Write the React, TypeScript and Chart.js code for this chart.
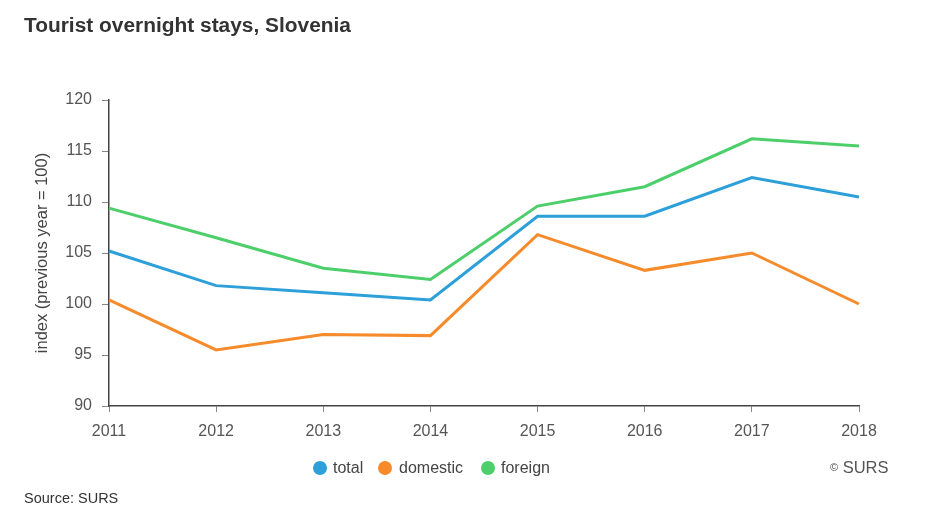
import React, { useEffect, useRef } from "react";
import { Chart, registerables } from "chart.js";

Chart.register(...registerables);

const years = ["2011", "2012", "2013", "2014", "2015", "2016", "2017", "2018"];
const totalValues = [105.2, 101.8, 101.1, 100.4, 108.6, 108.6, 112.4, 110.5];
const domesticValues = [100.4, 95.5, 97.0, 96.9, 106.8, 103.3, 105.0, 100.0];
const foreignValues = [109.4, 106.5, 103.5, 102.4, 109.6, 111.5, 116.2, 115.5];
const seriesNames = ["total", "domestic", "foreign"];
const seriesColors = ["#2d9fd9", "#f68b2c", "#4ccf6b"];

const FONT = "'Liberation Sans', Arial, sans-serif";

export default function App() {
  const ref = useRef<HTMLCanvasElement | null>(null);

  useEffect(() => {
    if (!ref.current) return;
    const values = [totalValues, domesticValues, foreignValues];
    const chart = new Chart(ref.current, {
      type: "line",
      data: {
        labels: years,
        datasets: seriesNames.map((name, i) => ({
          label: name,
          data: values[i],
          borderColor: seriesColors[i],
          backgroundColor: seriesColors[i],
          borderWidth: 3,
          pointRadius: 0,
          pointHoverRadius: 0,
          tension: 0,
          fill: false,
        })),
      },
      options: {
        animation: false,
        responsive: false,
        maintainAspectRatio: false,
        layout: { padding: { left: 0, top: 100, right: 66, bottom: 73 } },
        plugins: { legend: { display: false }, tooltip: { enabled: false }, title: { display: false } },
        scales: {
          x: {
            type: "category",
            offset: false,
            grid: { display: true, drawOnChartArea: false, drawTicks: true, tickLength: 6, color: "#888", lineWidth: 1 },
            border: { display: true, color: "#444", width: 1.5 },
            ticks: { color: "#555", font: { family: FONT, size: 16 }, padding: 10, maxRotation: 0, autoSkip: false },
            afterFit: (s: any) => { s.height = 40; },
          },
          y: {
            min: 90,
            max: 120,
            grid: { display: true, drawOnChartArea: false, drawTicks: true, tickLength: 7, color: "#888", lineWidth: 1 },
            border: { display: true, color: "#444", width: 1.5 },
            ticks: { stepSize: 5, color: "#555", font: { family: FONT, size: 16 }, padding: 10 },
            title: {
              display: true,
              text: "index (previous year = 100)",
              color: "#444",
              font: { family: FONT, size: 16.5 },
              padding: { top: 33, bottom: 0 },
            },
            afterFit: (s: any) => { s.width = 109; },
          },
        },
      },
    });
    return () => chart.destroy();
  }, []);

  const legendItems = [
    { name: seriesNames[0], color: seriesColors[0], cx: 320, tx: 333 },
    { name: seriesNames[1], color: seriesColors[1], cx: 385, tx: 399 },
    { name: seriesNames[2], color: seriesColors[2], cx: 488, tx: 501 },
  ];

  return (
    <div style={{ position: "absolute", left: 0, top: 0, width: 925, height: 519, background: "#fff", fontFamily: FONT }}>
      <canvas ref={ref} width={925} height={519} style={{ position: "absolute", left: 0, top: 0, width: 925, height: 519 }} />
      <div style={{ position: "absolute", left: 24, top: 12, fontSize: 20.9, lineHeight: "26px", fontWeight: "bold", color: "#333", whiteSpace: "nowrap" }}>
        Tourist overnight stays, Slovenia
      </div>
      {legendItems.map((it) => (
        <React.Fragment key={it.name}>
          <div style={{ position: "absolute", left: it.cx - 7, top: 461, width: 14, height: 14, borderRadius: 7, background: it.color }} />
          <div style={{ position: "absolute", left: it.tx, top: 458, fontSize: 16, lineHeight: "20px", color: "#444", whiteSpace: "nowrap" }}>{it.name}</div>
        </React.Fragment>
      ))}
      <div style={{ position: "absolute", left: 830, top: 457, fontSize: 16.5, lineHeight: "20px", color: "#555", whiteSpace: "nowrap" }}>
        <span style={{ fontSize: 11, verticalAlign: "2px" }}>©</span> SURS
      </div>
      <div style={{ position: "absolute", left: 24, top: 489, fontSize: 14.5, lineHeight: "18px", color: "#333", whiteSpace: "nowrap" }}>
        Source: SURS
      </div>
    </div>
  );
}
